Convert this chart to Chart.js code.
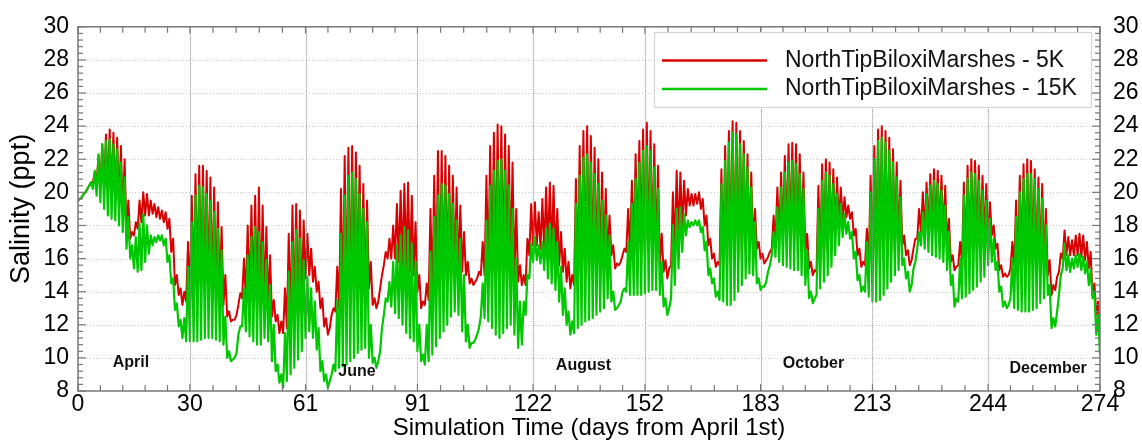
<!DOCTYPE html>
<html><head><meta charset="utf-8">
<script src="https://cdn.jsdelivr.net/npm/chart.js@4.4.1/dist/chart.umd.min.js"></script>
<style>html,body{margin:0;padding:0;background:#fff;overflow:hidden}#wrap{width:1142px;height:444px}</style>
</head><body><div id="wrap"><canvas id="c" width="1142" height="444"></canvas></div>
<script>
// ---------- data (one value per simulation day, day 0..274) ----------
const xTickValues = [0, 30, 61, 91, 122, 152, 183, 213, 244, 274];
const yTickValues = [8, 10, 12, 14, 16, 18, 20, 22, 24, 26, 28, 30];
const seriesNames = ['NorthTipBiloxiMarshes - 5K', 'NorthTipBiloxiMarshes - 15K'];
const monthNames = ['April', 'June', 'August', 'October', 'December'];
const monthDay = [14.2, 74.8, 135.5, 197.2, 260.1];
const monthSalinity = [9.42, 8.92, 9.27, 9.36, 9.1];

// daily high / low salinity, 5K run
const redHigh = [
19.6,19.9,20.2,20.6,21.2,22.2,22.9,23.5,23.8,23.6,
23.3,22.8,22.0,19.5,17.6,18.2,19.5,20.0,19.9,19.5,
19.3,19.1,18.9,18.8,18.4,17.2,15.0,14.2,14.0,17.0,
19.8,21.1,21.6,21.6,21.3,20.9,20.3,19.4,17.9,15.0,
12.8,12.3,12.6,13.9,16.0,18.0,19.2,19.8,20.3,19.2,
17.9,16.2,13.5,12.6,12.2,14.2,17.5,19.2,19.3,18.9,
18.3,17.5,16.6,15.5,14.6,13.6,12.4,11.8,13.0,15.5,
20.2,22.2,22.7,22.8,22.4,21.6,20.5,19.5,15.8,13.6,
13.4,15.0,16.4,17.2,18.0,19.3,20.1,20.5,20.6,19.8,
18.2,15.0,13.4,14.5,19.0,21.0,22.5,22.5,22.2,21.6,
21.0,20.3,19.2,17.6,15.8,14.8,14.6,15.2,17.0,21.0,
22.8,23.6,24.1,24.0,23.5,22.8,21.8,19.0,15.6,15.0,
17.2,19.3,19.4,18.8,19.6,20.3,20.6,20.4,19.0,17.6,
16.6,15.8,15.0,20.8,22.8,23.7,24.0,23.4,22.7,22.0,
21.2,20.2,18.6,16.8,15.7,15.8,16.6,19.0,20.7,22.3,
23.1,23.8,24.2,23.7,22.9,21.6,17.5,15.9,15.4,20.0,
21.3,21.2,20.7,20.2,19.9,19.9,20.0,19.6,18.6,17.2,
16.3,15.8,21.4,22.8,23.7,24.3,24.2,23.7,23.1,22.3,
21.2,19.0,17.0,16.3,15.9,16.4,18.6,20.3,21.2,22.2,
22.9,23.0,22.9,22.3,21.2,17.5,15.8,15.3,20.4,21.7,
22.0,21.8,21.4,20.9,20.3,19.7,19.2,18.8,17.8,16.6,
15.8,17.8,21.0,22.8,23.8,24.0,23.7,23.3,22.6,21.8,
20.7,17.4,16.5,15.9,17.2,19.0,20.0,20.6,21.1,21.4,
21.3,21.0,20.4,18.4,16.2,15.5,17.0,20.6,21.6,22.0,
21.9,21.6,21.0,20.5,19.4,18.0,16.9,15.6,15.1,15.0,
17.0,19.5,21.0,21.7,22.0,21.9,21.4,20.9,20.5,19.0,
15.9,14.4,14.9,16.3,17.7,17.3,17.1,17.4,17.5,17.4,
17.0,16.4,14.5,13.4,12.4];
const redLow = [
19.5,19.7,20.0,20.4,20.6,20.6,20.4,20.2,20.0,19.8,
19.6,19.2,18.6,17.6,17.2,17.4,17.8,18.2,18.6,18.6,
18.7,18.5,18.4,18.2,17.8,16.4,14.4,13.8,13.2,13.4,
13.6,13.8,13.9,14.0,14.0,14.0,13.8,13.6,13.6,13.2,
12.5,12.2,12.3,13.2,13.6,13.6,13.4,13.2,13.0,13.0,
13.2,13.0,12.5,12.2,11.5,11.5,11.8,12.0,12.2,12.5,
13.0,14.8,15.0,14.6,14.0,13.0,11.9,11.4,12.6,12.8,
13.0,13.0,13.0,13.2,13.4,13.6,13.8,13.6,14.2,13.2,
13.0,14.2,15.6,16.0,16.0,16.0,15.8,15.6,15.4,15.2,
15.0,14.0,13.0,13.2,13.5,13.7,13.9,14.0,14.2,14.4,
14.6,14.8,15.0,15.2,15.0,14.5,14.4,14.8,15.0,15.0,
15.0,15.0,14.8,14.8,15.0,15.2,15.0,14.8,14.6,14.4,
14.4,16.2,16.8,16.8,16.6,16.4,16.4,16.2,16.0,15.6,
15.2,14.6,14.2,14.4,14.6,14.8,15.0,15.0,15.0,15.2,
15.4,15.6,15.8,16.2,15.4,15.6,16.2,16.4,16.4,16.4,
16.4,16.4,16.4,16.4,16.4,16.2,15.5,15.2,14.8,15.6,
16.4,17.2,17.8,18.6,19.2,19.2,19.3,19.0,18.0,16.8,
16.0,15.5,15.6,15.6,15.6,15.6,15.8,16.0,16.2,16.4,
16.6,16.6,16.6,16.0,15.7,16.1,16.6,17.0,17.2,17.2,
17.2,17.2,17.2,17.0,16.8,16.4,15.4,15.0,15.2,15.6,
16.0,16.4,16.8,17.4,18.0,18.4,18.5,18.4,17.4,16.2,
15.5,15.6,15.8,15.8,15.8,15.8,16.0,16.2,16.4,16.6,
16.8,16.8,16.2,15.6,16.6,17.2,17.6,17.6,17.6,17.6,
17.5,17.4,17.2,16.8,15.8,15.3,15.6,15.8,16.0,16.2,
16.4,16.6,16.8,17.0,17.2,17.4,16.6,15.3,14.9,14.9,
15.4,15.6,15.6,15.6,15.6,15.6,15.6,15.6,15.6,15.6,
15.0,13.8,14.1,15.2,16.0,16.2,16.2,16.2,16.2,16.1,
15.9,15.4,13.8,12.6,11.4];

// daily high / low salinity, 15K run
const greenHigh = [
19.6,19.9,20.2,20.6,21.3,22.3,22.9,23.1,23.2,22.9,
22.6,21.8,20.9,18.5,16.8,17.3,18.1,18.7,18.0,17.4,
17.3,17.4,17.4,17.2,16.2,14.8,13.3,12.3,12.4,15.5,
18.2,19.8,20.4,20.3,19.9,19.5,18.8,17.8,16.5,12.5,
10.4,9.9,10.3,11.9,14.2,16.2,17.3,17.9,17.6,17.0,
15.9,14.4,12.0,9.6,9.0,11.5,15.2,17.0,17.7,17.2,
15.9,14.9,14.2,13.4,11.8,9.8,9.0,8.6,9.6,13.5,
17.5,19.8,21.0,21.2,20.8,19.9,19.0,18.2,12.0,10.0,
9.8,11.8,13.6,14.6,15.8,16.8,17.4,17.9,17.7,16.9,
15.8,12.0,10.2,12.0,16.4,18.5,19.8,20.5,20.4,19.9,
19.3,18.3,17.2,15.0,12.0,10.9,11.1,11.8,14.5,18.3,
20.4,21.3,21.9,22.0,21.3,20.4,19.0,16.0,13.4,13.4,
15.0,16.9,17.3,16.8,17.0,17.8,18.1,17.8,17.0,15.5,
14.2,12.8,12.2,19.3,21.0,22.1,22.3,21.8,21.1,20.5,
19.5,18.6,17.4,14.0,13.0,13.4,14.2,17.0,19.3,20.8,
21.8,22.5,22.8,22.5,21.5,20.2,15.8,13.6,13.0,18.0,
19.0,19.1,18.7,18.3,18.2,18.3,18.3,17.9,17.0,15.4,
14.8,14.0,20.5,21.9,23.0,23.6,23.5,22.9,22.3,21.5,
20.3,18.2,14.8,14.3,14.6,15.6,17.6,19.1,20.3,21.2,
21.8,21.9,21.7,21.1,20.2,16.5,14.0,13.6,19.0,20.7,
21.2,21.0,20.5,19.9,19.3,18.7,18.2,17.6,16.4,15.0,
14.3,17.0,20.0,22.0,23.1,23.3,23.0,22.5,21.8,20.9,
19.7,16.0,15.2,14.4,15.8,17.6,18.8,19.9,20.4,20.7,
20.5,20.1,19.2,17.6,15.0,13.6,16.0,19.8,20.8,21.2,
21.1,20.7,20.1,19.5,18.4,17.2,15.8,14.3,13.4,13.2,
16.0,18.5,20.0,20.8,21.1,21.1,20.8,20.2,19.6,18.0,
14.4,12.4,12.8,15.0,16.9,16.2,16.0,16.2,16.3,16.1,
15.8,15.3,14.0,12.6,11.4];
const greenLow = [
19.5,19.7,20.0,20.4,20.2,19.8,19.4,19.0,18.6,18.4,
18.3,18.0,17.6,16.6,16.0,15.4,15.2,15.3,15.8,16.3,
16.8,17.0,17.1,16.8,15.8,14.5,12.9,11.9,11.2,11.0,
11.0,11.0,11.0,11.1,11.2,11.2,11.2,11.1,11.0,10.8,
10.0,9.8,10.0,11.4,11.9,11.6,11.3,11.0,10.8,10.8,
11.2,11.0,9.8,9.2,8.5,8.2,8.6,9.0,9.4,9.9,
10.4,11.2,11.6,11.2,10.5,9.2,8.6,8.2,9.0,9.2,
9.4,9.5,9.6,9.8,10.0,10.3,10.5,10.6,10.0,9.7,
9.4,10.4,12.6,13.4,13.1,12.7,12.4,12.0,11.5,11.2,
11.0,10.4,9.8,9.6,9.8,10.2,10.7,11.2,11.6,12.0,
12.5,12.8,12.6,11.6,11.0,10.6,10.9,11.4,12.5,12.4,
12.2,11.8,11.4,11.2,11.5,11.8,12.0,11.4,10.6,10.8,
12.6,14.8,15.8,15.9,15.7,15.3,14.8,14.5,14.1,13.4,
12.6,12.0,11.4,11.5,11.8,12.0,12.2,12.3,12.4,12.6,
12.8,13.0,13.6,13.4,12.9,13.2,14.0,14.0,13.8,13.8,
13.8,13.8,13.9,14.0,14.1,14.1,13.8,13.1,12.6,13.6,
14.4,15.4,16.4,17.4,17.9,18.0,18.0,17.6,16.5,15.0,
14.5,13.7,13.5,13.4,13.2,13.2,13.5,14.0,14.4,14.8,
15.1,15.0,14.5,14.1,14.3,15.2,16.2,16.1,15.8,15.6,
15.5,15.4,15.3,15.3,15.0,14.4,13.6,13.3,13.8,14.2,
14.6,15.0,15.5,16.2,16.8,17.3,17.5,17.2,16.0,14.7,
14.0,14.0,13.7,13.4,13.4,13.5,13.8,14.2,14.6,15.0,
15.3,15.6,14.8,14.0,15.4,16.6,16.8,16.6,16.4,16.2,
16.1,16.0,15.8,15.3,14.4,13.1,13.4,13.6,13.7,13.9,
14.1,14.3,14.6,14.9,15.6,15.8,15.3,14.0,13.1,13.0,
13.6,13.0,12.9,12.8,12.8,12.8,12.9,13.0,13.3,13.6,
13.8,11.8,11.9,13.8,15.4,15.3,15.2,15.4,15.5,15.3,
15.1,14.4,13.6,11.4,10.2];

// ---------- chart ----------
const FONT = "'Liberation Sans', Arial, Helvetica, sans-serif";
const RED = '#d80000', GREEN = '#00c800';
const X_MIN = xTickValues[0], X_MAX = xTickValues[xTickValues.length - 1];
const Y_MIN = yTickValues[0], Y_MAX = yTickValues[yTickValues.length - 1];

function tidalSeries(low, high) {
  const pts = [];
  for (let d = 0; d < low.length; d++) {
    pts.push({x: d, y: low[d]});
    pts.push({x: d + 0.5, y: high[d]});
  }
  return pts;
}

function line(ctx, x1, y1, x2, y2) { ctx.beginPath(); ctx.moveTo(x1, y1); ctx.lineTo(x2, y2); ctx.stroke(); }

const decor = {
  id: 'decor',
  beforeDatasetsDraw(chart) {
    const {ctx, chartArea: a} = chart;
    const ys = chart.scales.y;
    ctx.save();
    ctx.lineWidth = 1;
    ctx.setLineDash([1, 2]);
    ctx.strokeStyle = '#c8c8c8';
    for (const v of yTickValues) {
      if (v <= Y_MIN || v >= Y_MAX) continue;
      const p = Math.round(ys.getPixelForValue(v)) + 0.5;
      line(ctx, a.left, p, a.right, p);
    }
    ctx.restore();
  },
  afterDatasetsDraw(chart) {
    const {ctx, chartArea: a} = chart;
    const xs = chart.scales.x, ys = chart.scales.y;
    ctx.save();
    // vertical dotted grid
    ctx.lineWidth = 1;
    ctx.setLineDash([1, 1]);
    ctx.strokeStyle = '#8a8a8a';
    for (const v of xTickValues) {
      if (v <= X_MIN || v >= X_MAX) continue;
      const p = Math.round(xs.getPixelForValue(v)) + 0.5;
      line(ctx, p, a.top, p, a.bottom);
    }
    ctx.setLineDash([]);
    // frame
    ctx.strokeStyle = '#777777';
    ctx.lineWidth = 1.5;
    ctx.strokeRect(a.left, a.top, a.right - a.left, a.bottom - a.top);
    // tick marks (inward) on all four sides
    ctx.lineWidth = 1.2;
    const xTick = (v, len) => {
      const p = xs.getPixelForValue(v);
      line(ctx, p, a.bottom, p, a.bottom - len);
      line(ctx, p, a.top, p, a.top + len);
    };
    const yTick = (v, len) => {
      const p = ys.getPixelForValue(v);
      line(ctx, a.left, p, a.left + len, p);
      line(ctx, a.right, p, a.right - len, p);
    };
    for (let i = 0; i < xTickValues.length; i++) {
      xTick(xTickValues[i], 7);
      if (i < xTickValues.length - 1) {
        const s = (xTickValues[i + 1] - xTickValues[i]) / 5;
        for (let k = 1; k < 5; k++) xTick(xTickValues[i] + k * s, 6);
      }
    }
    for (let i = 0; i < yTickValues.length; i++) {
      yTick(yTickValues[i], 8);
      if (i < yTickValues.length - 1) {
        const s = (yTickValues[i + 1] - yTickValues[i]) / 5;
        for (let k = 1; k < 5; k++) yTick(yTickValues[i] + k * s, 5);
      }
    }
    // month labels
    ctx.fillStyle = '#111';
    ctx.font = 'bold 16px ' + FONT;
    ctx.textAlign = 'center';
    ctx.textBaseline = 'alphabetic';
    monthNames.forEach((m, i) => {
      ctx.fillText(m, xs.getPixelForValue(monthDay[i]), ys.getPixelForValue(monthSalinity[i]));
    });
    // legend box
    const bx = 654, by = 32, bw = 437, bh = 75;
    ctx.fillStyle = '#ffffff';
    ctx.fillRect(bx, by, bw, bh);
    ctx.strokeStyle = '#d4d4d4';
    ctx.lineWidth = 1.2;
    ctx.strokeRect(bx + 0.5, by + 0.5, bw, bh);
    ctx.font = '23px ' + FONT;
    ctx.textAlign = 'left';
    ctx.textBaseline = 'middle';
    chart.data.datasets.forEach((ds, i) => {
      const ly = 60.5 + i * 28.5;
      ctx.strokeStyle = ds.borderColor;
      ctx.lineWidth = 2.5;
      line(ctx, 662, ly, 767, ly);
      ctx.fillStyle = '#111';
      ctx.fillText(ds.label, 785, ly);
    });
    ctx.restore();
  }
};

const tickFont = {family: FONT, size: 23};
new Chart(document.getElementById('c'), {
  type: 'line',
  data: {
    datasets: [
      {label: seriesNames[0], data: tidalSeries(redLow, redHigh), borderColor: RED, borderWidth: 2, order: 2},
      {label: seriesNames[1], data: tidalSeries(greenLow, greenHigh), borderColor: GREEN, borderWidth: 2.2, order: 1}
    ]
  },
  options: {
    responsive: false,
    animation: false,
    events: [],
    parsing: false,
    normalized: true,
    layout: {padding: {top: 19, left: 0, right: 0, bottom: 0}},
    elements: {
      point: {radius: 0},
      line: {tension: 0, borderJoinStyle: 'round', borderCapStyle: 'butt', fill: false}
    },
    plugins: {legend: {display: false}, tooltip: {enabled: false}},
    scales: {
      x: {
        type: 'linear', position: 'bottom', min: X_MIN, max: X_MAX,
        afterBuildTicks: s => { s.ticks = xTickValues.map(v => ({value: v})); },
        afterFit: s => { s.height = 53; },
        grid: {display: false, drawTicks: false},
        border: {display: false},
        ticks: {font: tickFont, color: '#000', padding: 0, autoSkip: false, maxRotation: 0, callback: v => String(v)},
        title: {display: true, text: 'Simulation Time (days from April 1st)', color: '#000', font: {family: FONT, size: 24}, padding: {top: 0, bottom: 1}}
      },
      y: {
        type: 'linear', position: 'left', min: Y_MIN, max: Y_MAX,
        afterBuildTicks: s => { s.ticks = yTickValues.map(v => ({value: v})); },
        afterFit: s => { s.width = 78; },
        grid: {display: false, drawTicks: false},
        border: {display: false},
        ticks: {font: tickFont, color: '#000', padding: 9},
        title: {display: true, text: 'Salinity (ppt)', color: '#000', font: {family: FONT, size: 27}, padding: {top: 5, bottom: 0}}
      },
      y2: {
        type: 'linear', position: 'right', min: Y_MIN, max: Y_MAX,
        afterBuildTicks: s => { s.ticks = yTickValues.map(v => ({value: v})); },
        afterFit: s => { s.width = 42; },
        grid: {display: false, drawTicks: false},
        border: {display: false},
        ticks: {font: tickFont, color: '#000', padding: 13}
      }
    }
  },
  plugins: [decor]
});
</script>
</body></html>
